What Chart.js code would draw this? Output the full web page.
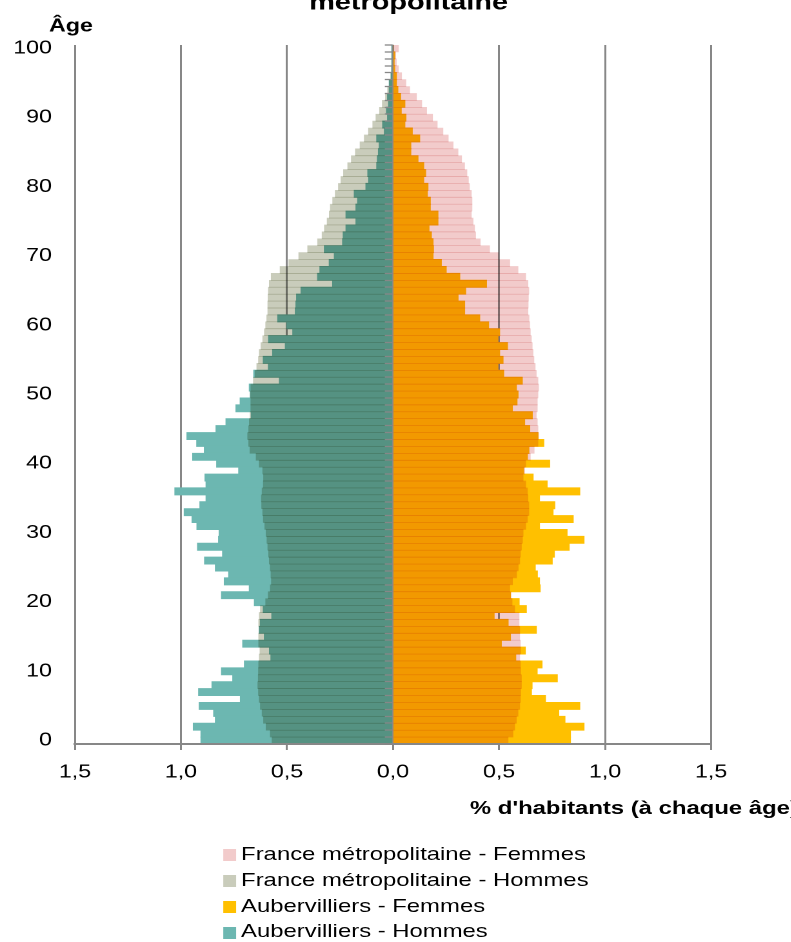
<!DOCTYPE html>
<html lang="fr">
<head>
<meta charset="utf-8">
<title>Pyramide des âges - Aubervilliers et France métropolitaine</title>
<script src="https://cdn.jsdelivr.net/npm/chart.js@4.4.1/dist/chart.umd.min.js"></script>
<style>
  html, body { margin: 0; padding: 0; background: #fff; overflow: hidden; }
  /* the reference is drawn wider than tall fonts would give, so stretch the whole chart */
  #wrap { position: relative; width: 613px; height: 942px; transform: scaleX(1.29); transform-origin: 0 0; }
  #legend { position: absolute; left: 173px; top: 841px; margin: 0; padding: 0; list-style: none;
    font: 18.5px "Liberation Sans", Arial, sans-serif; line-height: 25.8px; color: #000; }
  #legend li { display: flex; align-items: center; white-space: nowrap; }
  #legend span { display: inline-block; width: 9.5px; height: 12px; margin-right: 4.4px; position: relative; top: 1.5px; }
</style>
</head>
<body>
<div id="wrap">
  <canvas id="chart" width="613" height="942"></canvas>
  <ul id="legend"></ul>
</div>
<script>
// ages, top of pyramid first
const ages = [100, 99, 98, 97, 96, 95, 94, 93, 92, 91,
  90, 89, 88, 87, 86, 85, 84, 83, 82, 81,
  80, 79, 78, 77, 76, 75, 74, 73, 72, 71,
  70, 69, 68, 67, 66, 65, 64, 63, 62, 61,
  60, 59, 58, 57, 56, 55, 54, 53, 52, 51,
  50, 49, 48, 47, 46, 45, 44, 43, 42, 41,
  40, 39, 38, 37, 36, 35, 34, 33, 32, 31,
  30, 29, 28, 27, 26, 25, 24, 23, 22, 21,
  20, 19, 18, 17, 16, 15, 14, 13, 12, 11,
  10, 9, 8, 7, 6, 5, 4, 3, 2, 1,
  0];

// % of inhabitants at each age (same order as ages)
const franceFemmes = [0.025, 0.012, 0.015, 0.025, 0.04, 0.06, 0.078, 0.11, 0.135, 0.158,
  0.186, 0.208, 0.235, 0.26, 0.283, 0.306, 0.323, 0.337, 0.348, 0.355,
  0.36, 0.369, 0.372, 0.372, 0.369, 0.377, 0.384, 0.389, 0.411, 0.455,
  0.498, 0.55, 0.589, 0.625, 0.636, 0.64, 0.638, 0.637, 0.636, 0.641,
  0.644, 0.647, 0.652, 0.656, 0.66, 0.664, 0.67, 0.675, 0.683, 0.686,
  0.683, 0.68, 0.68, 0.675, 0.68, 0.683, 0.686, 0.683, 0.665, 0.647,
  0.625, 0.62, 0.613, 0.625, 0.633, 0.636, 0.64, 0.64, 0.633, 0.625,
  0.613, 0.61, 0.605, 0.6, 0.597, 0.59, 0.582, 0.563, 0.55, 0.556,
  0.561, 0.573, 0.594, 0.594, 0.597, 0.597, 0.6, 0.601, 0.597, 0.6,
  0.601, 0.605, 0.605, 0.601, 0.6, 0.597, 0.589, 0.581, 0.573, 0.565,
  0.542];

const franceHommes = [0.005, 0.004, 0.005, 0.007, 0.01, 0.017, 0.025, 0.035, 0.05, 0.063,
  0.08, 0.095, 0.115, 0.135, 0.155, 0.177, 0.196, 0.213, 0.233, 0.245,
  0.257, 0.272, 0.284, 0.295, 0.3, 0.31, 0.323, 0.334, 0.355, 0.402,
  0.444, 0.491, 0.532, 0.574, 0.583, 0.587, 0.589, 0.59, 0.59, 0.595,
  0.6, 0.606, 0.614, 0.622, 0.63, 0.634, 0.642, 0.65, 0.658, 0.67,
  0.672, 0.67, 0.67, 0.673, 0.677, 0.68, 0.685, 0.68, 0.674, 0.645,
  0.63, 0.614, 0.61, 0.611, 0.617, 0.62, 0.619, 0.614, 0.611, 0.604,
  0.598, 0.594, 0.59, 0.586, 0.583, 0.578, 0.575, 0.573, 0.578, 0.588,
  0.6, 0.625, 0.63, 0.633, 0.63, 0.633, 0.633, 0.627, 0.63, 0.633,
  0.634, 0.635, 0.637, 0.634, 0.63, 0.625, 0.617, 0.61, 0.598, 0.578,
  0.57];

const aubervilliersFemmes = [0, 0.007, 0.004, 0.007, 0.015, 0.015, 0.022, 0.035, 0.055, 0.038,
  0.06, 0.055, 0.09, 0.125, 0.083, 0.083, 0.117, 0.144, 0.153, 0.144,
  0.164, 0.161, 0.175, 0.175, 0.211, 0.211, 0.169, 0.18, 0.188, 0.19,
  0.188, 0.227, 0.25, 0.314, 0.44, 0.342, 0.306, 0.337, 0.337, 0.408,
  0.45, 0.502, 0.494, 0.539, 0.502, 0.518, 0.494, 0.521, 0.609, 0.581,
  0.589, 0.584, 0.562, 0.656, 0.62, 0.644, 0.683, 0.71, 0.64, 0.633,
  0.738, 0.615, 0.66, 0.726, 0.88, 0.69, 0.762, 0.754, 0.849, 0.69,
  0.82, 0.9, 0.83, 0.76, 0.75, 0.67, 0.68, 0.69, 0.693, 0.553,
  0.594, 0.628, 0.476, 0.542, 0.675, 0.553, 0.51, 0.623, 0.578, 0.702,
  0.679, 0.774, 0.655, 0.652, 0.718, 0.88, 0.781, 0.81, 0.9, 0.836,
  0.836];

const aubervilliersHommes = [0.003, 0.002, 0.003, 0.004, 0.008, 0.017, 0.017, 0.025, 0.02, 0.03,
  0.025, 0.048, 0.04, 0.076, 0.064, 0.068, 0.073, 0.076, 0.118, 0.114,
  0.127, 0.182, 0.166, 0.174, 0.221, 0.174, 0.221, 0.234, 0.237, 0.323,
  0.276, 0.3, 0.344, 0.355, 0.284, 0.433, 0.454, 0.457, 0.46, 0.543,
  0.5, 0.472, 0.586, 0.507, 0.567, 0.611, 0.587, 0.656, 0.535, 0.677,
  0.672, 0.72, 0.74, 0.668, 0.787, 0.834, 0.971, 0.925, 0.889, 0.944,
  0.831, 0.727, 0.886, 0.881, 1.028, 0.881, 0.91, 0.984, 0.947, 0.924,
  0.819, 0.822, 0.921, 0.803, 0.888, 0.837, 0.774, 0.795, 0.677, 0.808,
  0.653, 0.611, 0.571, 0.625, 0.63, 0.606, 0.708, 0.582, 0.575, 0.7,
  0.808, 0.755, 0.853, 0.916, 0.719, 0.913, 0.845, 0.837, 0.941, 0.905,
  0.905];

const xTicks = [-1.5, -1, -0.5, 0, 0.5, 1, 1.5];

const FONT = '"Liberation Sans", Arial, sans-serif';
Chart.defaults.font.family = FONT;
Chart.defaults.font.size = 18;
Chart.defaults.color = '#000';

const GRID = '#878787';

// white canvas so the multiply blend has something to multiply with
const whiteBg = {
  id: 'whiteBg',
  beforeDraw(chart) {
    const c = chart.ctx;
    c.save();
    c.fillStyle = '#fff';
    c.fillRect(0, 0, chart.width, chart.height);
    c.restore();
  }
};

// France series sit on top of Aubervilliers and darken it where they overlap
const multiply = {
  id: 'multiply',
  beforeDatasetDraw(chart, args) {
    if (chart.data.datasets[args.index].blend) {
      chart.ctx.save();
      chart.ctx.globalCompositeOperation = 'multiply';
    }
  },
  afterDatasetDraw(chart, args) {
    if (chart.data.datasets[args.index].blend) chart.ctx.restore();
  }
};

const texts = {
  id: 'texts',
  afterDraw(chart) {
    const c = chart.ctx;
    c.save();
    c.fillStyle = '#000';
    c.textBaseline = 'alphabetic';
    c.textAlign = 'center';
    c.font = 'bold 22.4px ' + FONT;
    c.fillText('métropolitaine', 316.7, 9.5);
    c.font = 'bold 18px ' + FONT;
    c.fillText('Âge', 55, 31.7);
    c.textAlign = 'left';
    c.font = 'bold 18.5px ' + FONT;
    c.fillText("% d'habitants (à chaque âge)", 364.3, 814);
    c.restore();
  }
};

const htmlLegend = {
  id: 'htmlLegend',
  afterUpdate(chart) {
    const ul = document.getElementById('legend');
    ul.innerHTML = '';
    const items = Chart.defaults.plugins.legend.labels.generateLabels(chart);
    items.forEach(item => {
      const li = document.createElement('li');
      const box = document.createElement('span');
      box.style.background = item.fillStyle;
      li.appendChild(box);
      li.appendChild(document.createTextNode(item.text));
      ul.appendChild(li);
    });
  }
};

const neg = arr => arr.map(v => -v);

chart = new Chart(document.getElementById('chart').getContext('2d'), {
  type: 'bar',
  data: {
    labels: ages,
    datasets: [
      { label: 'France métropolitaine - Femmes', data: franceFemmes, backgroundColor: '#F2CBCB', blend: true },
      { label: 'France métropolitaine - Hommes', data: neg(franceHommes), backgroundColor: '#C9CCBB', blend: true },
      { label: 'Aubervilliers - Femmes', data: aubervilliersFemmes, backgroundColor: '#FFC000', inflateAmount: 0.5 },
      { label: 'Aubervilliers - Hommes', data: neg(aubervilliersHommes), backgroundColor: '#6CB7B1', inflateAmount: 0.5 }
    ]
  },
  options: {
    indexAxis: 'y',
    responsive: false,
    devicePixelRatio: 2,
    animation: false,
    events: [],
    layout: { padding: { left: 0, top: 45, right: 61.8, bottom: 148 } },
    datasets: {
      bar: { grouped: false, barPercentage: 1, categoryPercentage: 1, borderWidth: 0 }
    },
    scales: {
      x: {
        type: 'linear',
        min: -1.5,
        max: 1.5,
        afterBuildTicks: s => { s.ticks = xTicks.map(v => ({ value: v })); },
        afterFit: s => { s.height = 50; },
        ticks: {
          padding: 11.7,
          callback: v => Math.abs(v).toFixed(1).replace('.', ',')
        },
        grid: { color: GRID, lineWidth: 1.5, tickLength: 6, tickColor: GRID },
        border: { display: true, color: GRID, width: 2, z: 1 }
      },
      y: {
        type: 'category',
        position: 'left',
        offset: true,
        afterFit: s => { s.width = 58.1; },
        grid: { display: false, drawTicks: false },
        border: { display: false },
        ticks: {
          autoSkip: false,
          padding: 17.8,
          callback: function (v) {
            const age = this.getLabelForValue(v);
            return age % 10 === 0 ? String(age) : '';
          }
        }
      },
      // age axis drawn at x = 0 with a mark between every age
      yc: {
        type: 'category',
        axis: 'y',
        position: { x: 0 },
        offset: true,
        ticks: { display: false },
        grid: { offset: true, drawOnChartArea: false, drawTicks: true, tickLength: 5.7, color: GRID, tickWidth: 1.3, z: 1 },
        border: { display: true, color: GRID, width: 1, z: 1 }
      }
    },
    plugins: {
      legend: { display: false },
      tooltip: { enabled: false },
      title: { display: false }
    }
  },
  plugins: [whiteBg, multiply, texts, htmlLegend]
});
</script>
</body>
</html>
